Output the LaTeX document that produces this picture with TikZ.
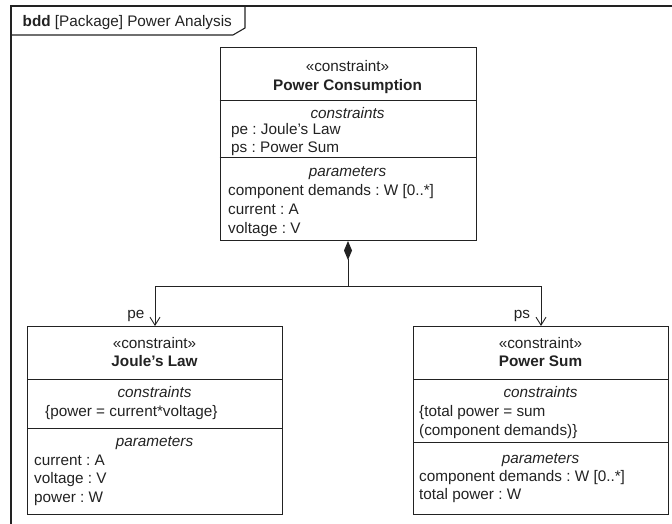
\documentclass[tikz,border=0pt]{standalone}
\usepackage{fontspec}
\setmainfont{Liberation Sans}
\usetikzlibrary{arrows.meta}
\definecolor{ink}{HTML}{222222}
\frenchspacing
\tikzset{
  block/.style={draw=ink, line width=1pt, anchor=north west, inner sep=0pt},
  divider/.style={draw=ink, line width=1pt},
  txtc/.style={anchor=mid, inner sep=0pt, text=ink, yshift=-3.5pt},
  txtl/.style={anchor=mid west, inner sep=0pt, text=ink, yshift=-3.5pt},
  compose/.style={draw=ink, line width=1pt, {Diamond[length=19pt,width=8pt,fill=ink]}-},
  navig/.style={draw=ink, line width=1pt, -{Straight Barb[length=8pt,width=10pt,line width=0.9pt]}},
  frameline/.style={draw=ink, line width=1.1pt}
}
\begin{document}
\begin{tikzpicture}[x=1pt, y=-1pt, font=\fontsize{15.3}{18}\selectfont]
\useasboundingbox (0,0) rectangle (672,524);

% diagram frame and its name tab
\draw[frameline] (11,524) -- (11,6) -- (672,6);
\draw[frameline] (11,35) -- (233,35) -- (245,28) -- (245,6);
\node[txtl] (title) at (22.5,20.5) {\textbf{bdd} [Package] Power Analysis};

% Power Consumption block
\node[block, minimum width=256pt, minimum height=193pt] (pc) at (219.5,47) {};
\draw[divider] (pc.west |- 0,101) -- (pc.east |- 0,101);
\draw[divider] (pc.west |- 0,158) -- (pc.east |- 0,158);
\node[txtc] (pcst) at (347.5,65) {«constraint»};
\node[txtc] (pcname) at (347.5,84) {\textbf{Power Consumption}};
\node[txtc] (pccon) at (347.5,112) {\textit{constraints}};
\node[txtl] (pcpe) at (231,128) {pe : Joule's Law};
\node[txtl] (pcps) at (231,146) {ps : Power Sum};
\node[txtc] (pcpar) at (347.5,170.5) {\textit{parameters}};
\node[txtl] (pccd) at (228,189) {component demands : W [0..*]};
\node[txtl] (pccur) at (228,208.5) {current : A};
\node[txtl] (pcvol) at (228,227) {voltage : V};

% Joule's Law block
\node[block, minimum width=255pt, minimum height=188pt] (jl) at (27,326) {};
\draw[divider] (jl.west |- 0,379) -- (jl.east |- 0,379);
\draw[divider] (jl.west |- 0,428) -- (jl.east |- 0,428);
\node[txtc] (jlst) at (154.5,342.5) {«constraint»};
\node[txtc] (jlname) at (154.5,360) {\textbf{Joule's Law}};
\node[txtc] (jlcon) at (154.5,391) {\textit{constraints}};
\node[txtl] (jlexpr) at (45,410) {\{power = current*voltage\}};
\node[txtc] (jlpar) at (154.5,440) {\textit{parameters}};
\node[txtl] (jlcur) at (34,459) {current : A};
\node[txtl] (jlvol) at (34,477) {voltage : V};
\node[txtl] (jlpow) at (34,496) {power : W};

% Power Sum block
\node[block, minimum width=255pt, minimum height=188pt] (psb) at (413,326) {};
\draw[divider] (psb.west |- 0,379) -- (psb.east |- 0,379);
\draw[divider] (psb.west |- 0,442) -- (psb.east |- 0,442);
\node[txtc] (psst) at (540.5,342.5) {«constraint»};
\node[txtc] (psname) at (540.5,360) {\textbf{Power Sum}};
\node[txtc] (pscon) at (540.5,391) {\textit{constraints}};
\node[txtl] (psexpr1) at (419,410) {\{total power = sum};
\node[txtl] (psexpr2) at (419,429) {(component demands)\}};
\node[txtc] (pspar) at (540.5,457) {\textit{parameters}};
\node[txtl] (pscd) at (419,475) {component demands : W [0..*]};
\node[txtl] (pstot) at (419,493.5) {total power : W};

% composition associations
\coordinate (fork) at (pc.south |- 0,286);
\draw[compose] (pc.south) -- (fork);
\draw[navig] (fork) -| (jl.north);
\draw[navig] (fork) -| (psb.north);
\node[txtc] (pe) at (136,312) {pe};
\node[txtc] (ps) at (522,312) {ps};
\end{tikzpicture}
\end{document}
